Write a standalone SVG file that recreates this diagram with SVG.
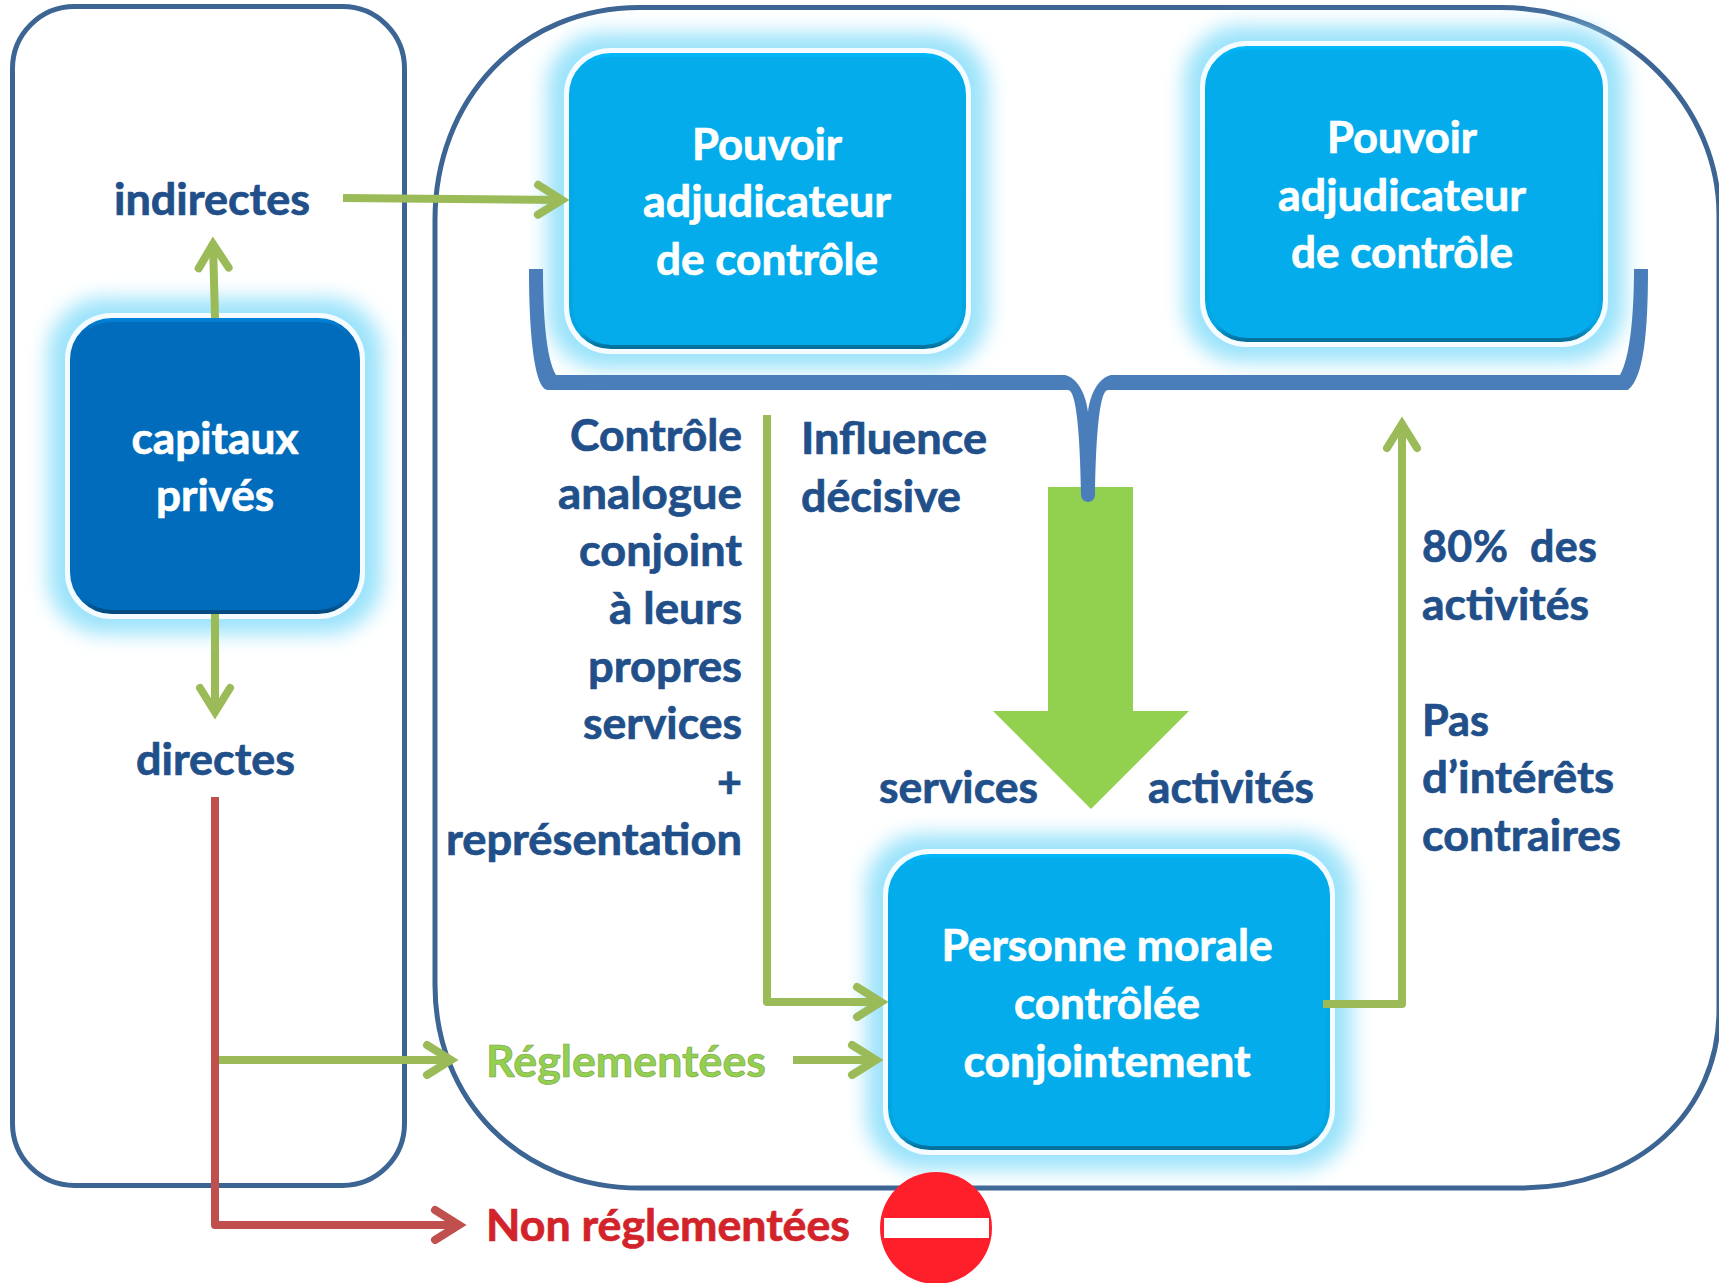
<svg xmlns="http://www.w3.org/2000/svg" width="1719" height="1283" viewBox="0 0 1719 1283">
<defs>
<style>
text{font-family:"Lato","Liberation Sans",sans-serif;font-weight:700;font-size:43px}
.w{fill:#fff;stroke:#fff;stroke-width:.7px;text-anchor:middle}
.d{fill:#214f8a;stroke:#214f8a;stroke-width:.7px}
.e{text-anchor:end}
.cn{fill:none;stroke:#9bbb59;stroke-width:8;stroke-linejoin:round}
.red{fill:none;stroke:#c0504d;stroke-width:8;stroke-linejoin:round}
.frame{fill:none;stroke:#3d6594;stroke-width:5}
.glow{fill:#9be3fb;filter:url(#blur)}
.halo{fill:#f4fcff}
.n1{fill:#04aceb;stroke:url(#edge1);stroke-width:4}
.n2{fill:#016cbb;stroke:url(#edge2);stroke-width:4}
</style>
<filter id="blur" x="-20%" y="-20%" width="140%" height="140%"><feGaussianBlur stdDeviation="10"/></filter>
<linearGradient id="edge1" x1="0" y1="0" x2="0" y2="1"><stop offset="0" stop-color="#00b6fa"/><stop offset=".04" stop-color="#04aceb"/><stop offset=".95" stop-color="#04a4e0"/><stop offset="1" stop-color="#05709c"/></linearGradient>
<linearGradient id="edge2" x1="0" y1="0" x2="0" y2="1"><stop offset="0" stop-color="#0280d6"/><stop offset=".04" stop-color="#016cbb"/><stop offset=".95" stop-color="#016cbb"/><stop offset="1" stop-color="#014a80"/></linearGradient>
<marker id="ag" markerUnits="userSpaceOnUse" markerWidth="44" markerHeight="44" refX="33" refY="22" orient="auto" overflow="visible"><path d="M9,7 L33,22 L9,37" fill="none" stroke="#9bbb59" stroke-width="8" stroke-linecap="round" stroke-linejoin="miter"/></marker>
<marker id="ar" markerUnits="userSpaceOnUse" markerWidth="44" markerHeight="44" refX="33" refY="22" orient="auto" overflow="visible"><path d="M9,7 L33,22 L9,37" fill="none" stroke="#c0504d" stroke-width="8" stroke-linecap="round"/></marker>
</defs>
<rect width="1719" height="1283" fill="#fff"/>
<g id="frames">
<rect class="frame" x="12.5" y="6.500" width="392" height="1179" rx="62"/>
<path class="frame" d="M640,7.500 H1500 C1630,7.500 1719,110 1719,215 V1010 C1719,1110 1640,1188 1520,1188 H640 C520,1188 435,1100 435,985 V220 C435,100 520,7.500 640,7.500 Z"/>
</g>
<g id="node-capitaux">
<rect class="glow" x="48" y="298" width="334" height="336" rx="56"/>
<rect class="halo" x="65" y="313" width="300" height="306" rx="46"/>
<rect class="n2" x="72" y="320" width="286" height="292" rx="40"/>
<text class="w" x="215" y="454" textLength="167" lengthAdjust="spacingAndGlyphs">capitaux</text>
<text class="w" x="215" y="511" textLength="118" lengthAdjust="spacingAndGlyphs">privés</text>
</g>
<g id="node-pouvoir-1">
<rect class="glow" x="547" y="33" width="441" height="336" rx="56"/>
<rect class="halo" x="564" y="48" width="407" height="306" rx="46"/>
<rect class="n1" x="571" y="55" width="393" height="292" rx="40"/>
<text class="w" x="767" y="160" textLength="150" lengthAdjust="spacingAndGlyphs">Pouvoir</text>
<text class="w" x="767" y="217" textLength="248" lengthAdjust="spacingAndGlyphs">adjudicateur</text>
<text class="w" x="767" y="275" textLength="222" lengthAdjust="spacingAndGlyphs">de contrôle</text>
</g>
<g id="node-pouvoir-2">
<rect class="glow" x="1184" y="26" width="441" height="336" rx="56"/>
<rect class="halo" x="1200" y="41" width="408" height="306" rx="46"/>
<rect class="n1" x="1207" y="48" width="394" height="292" rx="40"/>
<text class="w" x="1402" y="153" textLength="150" lengthAdjust="spacingAndGlyphs">Pouvoir</text>
<text class="w" x="1402" y="211" textLength="248" lengthAdjust="spacingAndGlyphs">adjudicateur</text>
<text class="w" x="1402" y="268" textLength="222" lengthAdjust="spacingAndGlyphs">de contrôle</text>
</g>
<g id="node-personne">
<rect class="glow" x="866" y="834" width="486" height="336" rx="56"/>
<rect class="halo" x="883" y="849" width="452" height="306" rx="46"/>
<rect class="n1" x="890" y="856" width="438" height="292" rx="40"/>
<text class="w" x="1107" y="961" textLength="331" lengthAdjust="spacingAndGlyphs">Personne morale</text>
<text class="w" x="1107" y="1019" textLength="186" lengthAdjust="spacingAndGlyphs">contrôlée</text>
<text class="w" x="1107" y="1077" textLength="287" lengthAdjust="spacingAndGlyphs">conjointement</text>
</g>
<g id="big-arrow"><path fill="#92d050" d="M1048,487 H1133 V711 H1189 L1091,809 L993,711 H1048 Z"/></g>
<g id="brace"><path fill="#4a7ebb" d="M529,269 H543 C543,315 546,358 556,375 H1065 C1078,378 1086,395 1088,412 C1090,395 1098,378 1111,375 H1620 C1630,358 1634,315 1634,269 H1648 C1648,330 1644,378 1628,390 H1108 C1100,390 1096,430 1095,495 A7,7 0 0 1 1081,495 C1080,430 1076,390 1068,390 H548 C534,390 529,330 529,269 Z"/></g>
<g id="connectors">
<path class="cn" d="M343,198 L562,200" marker-end="url(#ag)"/>
<path class="cn" d="M215,318 L213,244" marker-end="url(#ag)"/>
<path class="cn" d="M215,614 V712" marker-end="url(#ag)"/>
<path class="cn" d="M767,415 V1002 H881" marker-end="url(#ag)"/>
<path class="cn" d="M219,1060 H451" marker-end="url(#ag)"/>
<path class="cn" d="M793,1060 H876" marker-end="url(#ag)"/>
<path class="cn" d="M1323,1004 H1402 V424" marker-end="url(#ag)"/>
<path class="red" d="M215,797 V1225 H459" marker-end="url(#ar)"/>
</g>
<g id="labels">
<text class="d" x="114" y="215" textLength="196" lengthAdjust="spacingAndGlyphs">indirectes</text>
<text class="d" x="136" y="775" textLength="159" lengthAdjust="spacingAndGlyphs">directes</text>
<text class="d e" x="742" y="451" textLength="172" lengthAdjust="spacingAndGlyphs">Contrôle</text>
<text class="d e" x="742" y="509" textLength="184" lengthAdjust="spacingAndGlyphs">analogue</text>
<text class="d e" x="742" y="566" textLength="163" lengthAdjust="spacingAndGlyphs">conjoint</text>
<text class="d e" x="742" y="624" textLength="133" lengthAdjust="spacingAndGlyphs">à leurs</text>
<text class="d e" x="742" y="682" textLength="154" lengthAdjust="spacingAndGlyphs">propres</text>
<text class="d e" x="742" y="739" textLength="159" lengthAdjust="spacingAndGlyphs">services</text>
<text class="d e" x="742" y="798">+</text>
<text class="d e" x="742" y="855" textLength="296" lengthAdjust="spacingAndGlyphs">représentation</text>
<text class="d" x="801" y="454" textLength="186" lengthAdjust="spacingAndGlyphs">Influence</text>
<text class="d" x="801" y="512" textLength="160" lengthAdjust="spacingAndGlyphs">décisive</text>
<text class="d" x="879" y="803" textLength="159" lengthAdjust="spacingAndGlyphs">services</text>
<text class="d" x="1148" y="803" textLength="166" lengthAdjust="spacingAndGlyphs">activités</text>
<text class="d" x="1422" y="562" xml:space="preserve" textLength="175" lengthAdjust="spacing">80%  des</text>
<text class="d" x="1422" y="620" textLength="167" lengthAdjust="spacingAndGlyphs">activités</text>
<text class="d" x="1422" y="736" textLength="67" lengthAdjust="spacingAndGlyphs">Pas</text>
<text class="d" x="1422" y="793" textLength="192" lengthAdjust="spacingAndGlyphs">d’intérêts</text>
<text class="d" x="1422" y="851" textLength="199" lengthAdjust="spacingAndGlyphs">contraires</text>
<text x="486" y="1077" fill="#92d050" stroke="#7fa04a" stroke-width=".6" textLength="280" lengthAdjust="spacingAndGlyphs">Réglementées</text>
<text x="486" y="1241" fill="#d2232a" stroke="#d2232a" stroke-width=".7" textLength="364" lengthAdjust="spacingAndGlyphs">Non réglementées</text>
</g>
<g id="no-entry">
<circle cx="936" cy="1228" r="56" fill="#ff1f2b"/>
<rect x="884" y="1218" width="105" height="20" fill="#fff"/>
</g>
</svg>
